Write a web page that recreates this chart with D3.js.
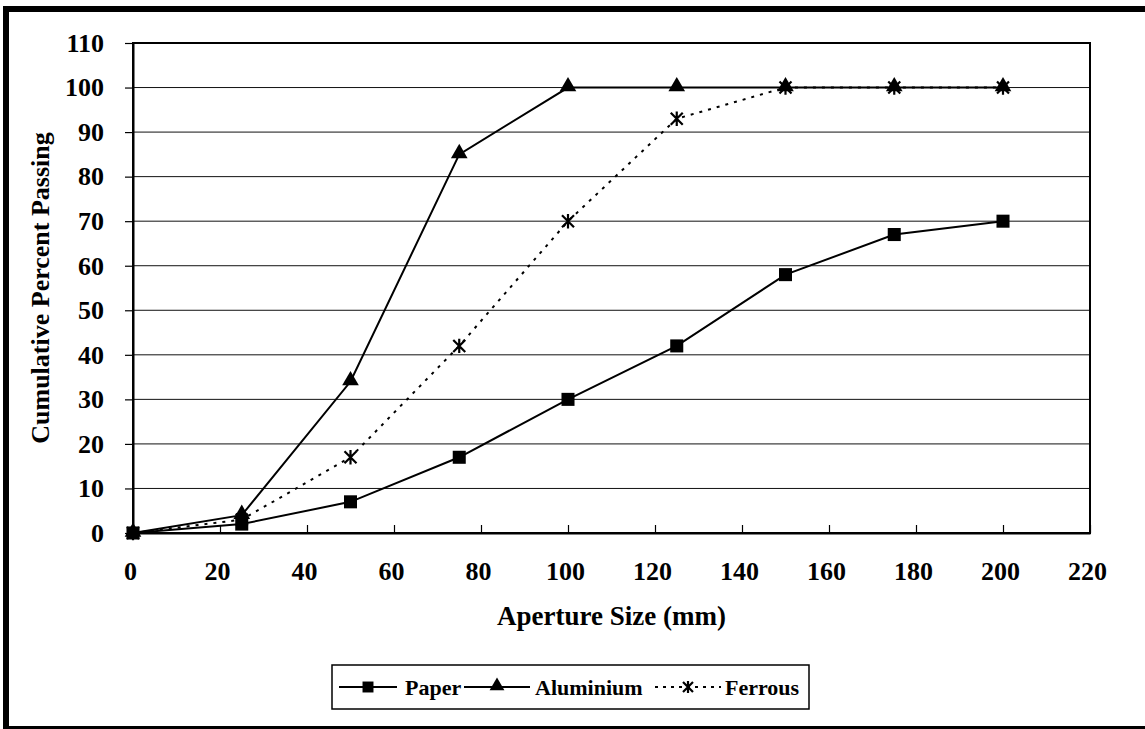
<!DOCTYPE html>
<html><head><meta charset="utf-8">
<script src="https://cdn.jsdelivr.net/npm/d3@7/dist/d3.min.js"></script>
<style>body{margin:0;background:#fff;} text{font-family:"Liberation Serif","Times New Roman",serif;font-weight:bold;fill:#000;}</style>
</head><body>
<svg id="c" width="1145" height="729"></svg>
<script>
const apertures = [0, 25, 50, 75, 100, 125, 150, 175, 200];
const paper = [0, 2, 7, 17, 30, 42, 58, 67, 70];
const aluminium = [0, 4, 34, 85, 100, 100, 100, 100, 100];
const ferrous = [0, 3, 17, 42, 70, 93, 100, 100, 100];
const xTicks = [0, 20, 40, 60, 80, 100, 120, 140, 160, 180, 200, 220];
const yTicks = [0, 10, 20, 30, 40, 50, 60, 70, 80, 90, 100, 110];
const seriesNames = ["Paper", "Aluminium", "Ferrous"];

const svg = d3.select("#c");
const L = 133, R = 1090, T = 43, B = 533;
const x = d3.scaleLinear().domain([0, 220]).range([L, R]);
const y = d3.scaleLinear().domain([0, 110]).range([B, T]);

// outer border
svg.append("rect").attr("x", 6).attr("y", 9).attr("width", 1160).attr("height", 720)
  .attr("fill", "none").attr("stroke", "#000").attr("stroke-width", 6);

// gridlines
svg.append("g").selectAll("line").data(yTicks.filter(v => v > 0 && v < 110)).join("line")
  .attr("x1", L).attr("x2", R).attr("y1", d => y(d)).attr("y2", d => y(d))
  .attr("stroke", "#111").attr("stroke-width", 1);

// plot frame
svg.append("rect").attr("x", L).attr("y", T).attr("width", R - L).attr("height", B - T)
  .attr("fill", "none").attr("stroke", "#000").attr("stroke-width", 2);

// axes
const xAxis = d3.axisBottom(x).tickValues(xTicks).tickSizeInner(-8).tickSizeOuter(0).tickPadding(29);
const gx = svg.append("g").attr("transform", `translate(0,${B})`).call(xAxis);
gx.select(".domain").attr("stroke-width", 2);
gx.selectAll(".tick line").attr("stroke-width", 1.2);
gx.selectAll("text").attr("font-size", 26).attr("dx", -3).style("font-family", "Liberation Serif").style("font-weight", "bold");

const yAxis = d3.axisLeft(y).tickValues(yTicks).tickSizeInner(8).tickSizeOuter(0).tickPadding(21);
const gy = svg.append("g").attr("transform", `translate(${L},0)`).call(yAxis);
gy.select(".domain").attr("stroke-width", 2);
gy.selectAll(".tick line").attr("stroke-width", 1.2);
gy.selectAll("text").attr("font-size", 26).style("font-family", "Liberation Serif").style("font-weight", "bold");

// axis titles
svg.append("text").attr("x", (L + R) / 2).attr("y", 625).attr("text-anchor", "middle")
  .attr("font-size", 27).text("Aperture Size (mm)");
svg.append("text").attr("transform", `translate(49,${(T + B) / 2}) rotate(-90)`).attr("text-anchor", "middle")
  .attr("font-size", 26).text("Cumulative Percent Passing");

// markers
const sq = d3.symbol().type(d3.symbolSquare).size(170);
const tri = d3.symbol().type(d3.symbolTriangle).size(120);
function star(g, cx, cy, s) {
  const p = `M${cx - s},${cy - s}L${cx + s},${cy + s}M${cx - s},${cy + s}L${cx + s},${cy - s}M${cx},${cy - s * 1.2}L${cx},${cy + s * 1.2}`;
  g.append("path").attr("d", p).attr("stroke", "#000").attr("stroke-width", 2.2).attr("fill", "none");
}

const line = d3.line().x((d, i) => x(apertures[i])).y(d => y(d));
const series = [
  { name: seriesNames[0], vals: paper, dash: null, mark: "sq" },
  { name: seriesNames[1], vals: aluminium, dash: null, mark: "tri" },
  { name: seriesNames[2], vals: ferrous, dash: "3,6", mark: "star" }
];
series.forEach(s => {
  const g = svg.append("g");
  g.append("path").attr("d", line(s.vals)).attr("fill", "none").attr("stroke", "#000")
    .attr("stroke-width", 2).attr("stroke-dasharray", s.dash);
  s.vals.forEach((v, i) => {
    const cx = x(apertures[i]), cy = y(v);
    if (s.mark === "sq") g.append("path").attr("d", sq).attr("transform", `translate(${cx},${cy})`);
    else if (s.mark === "tri") g.append("path").attr("d", tri).attr("transform", `translate(${cx},${cy - 1})`);
    else star(g, cx, cy, 6);
  });
});

// legend
const lg = svg.append("g");
lg.append("rect").attr("x", 332).attr("y", 665).attr("width", 477).attr("height", 44)
  .attr("fill", "#fff").attr("stroke", "#000").attr("stroke-width", 1.5);
const ly = 687;
const items = [
  { x1: 339, x2: 397, tx: 405, mark: "sq", dash: null },
  { x1: 464, x2: 530, tx: 535, mark: "tri", dash: null },
  { x1: 655, x2: 721, tx: 725, mark: "star", dash: "3,5" }
];
items.forEach((it, i) => {
  lg.append("line").attr("x1", it.x1).attr("x2", it.x2).attr("y1", ly).attr("y2", ly)
    .attr("stroke", "#000").attr("stroke-width", 2).attr("stroke-dasharray", it.dash);
  const cx = (it.x1 + it.x2) / 2;
  if (it.mark === "sq") lg.append("path").attr("d", d3.symbol().type(d3.symbolSquare).size(120)).attr("transform", `translate(${cx},${ly})`);
  else if (it.mark === "tri") lg.append("path").attr("d", d3.symbol().type(d3.symbolTriangle).size(95)).attr("transform", `translate(${cx},${ly - 1})`);
  else star(lg, cx, ly, 5);
  lg.append("text").attr("x", it.tx).attr("y", 695).attr("font-size", 22).text(seriesNames[i]);
});
</script>
</body></html>
